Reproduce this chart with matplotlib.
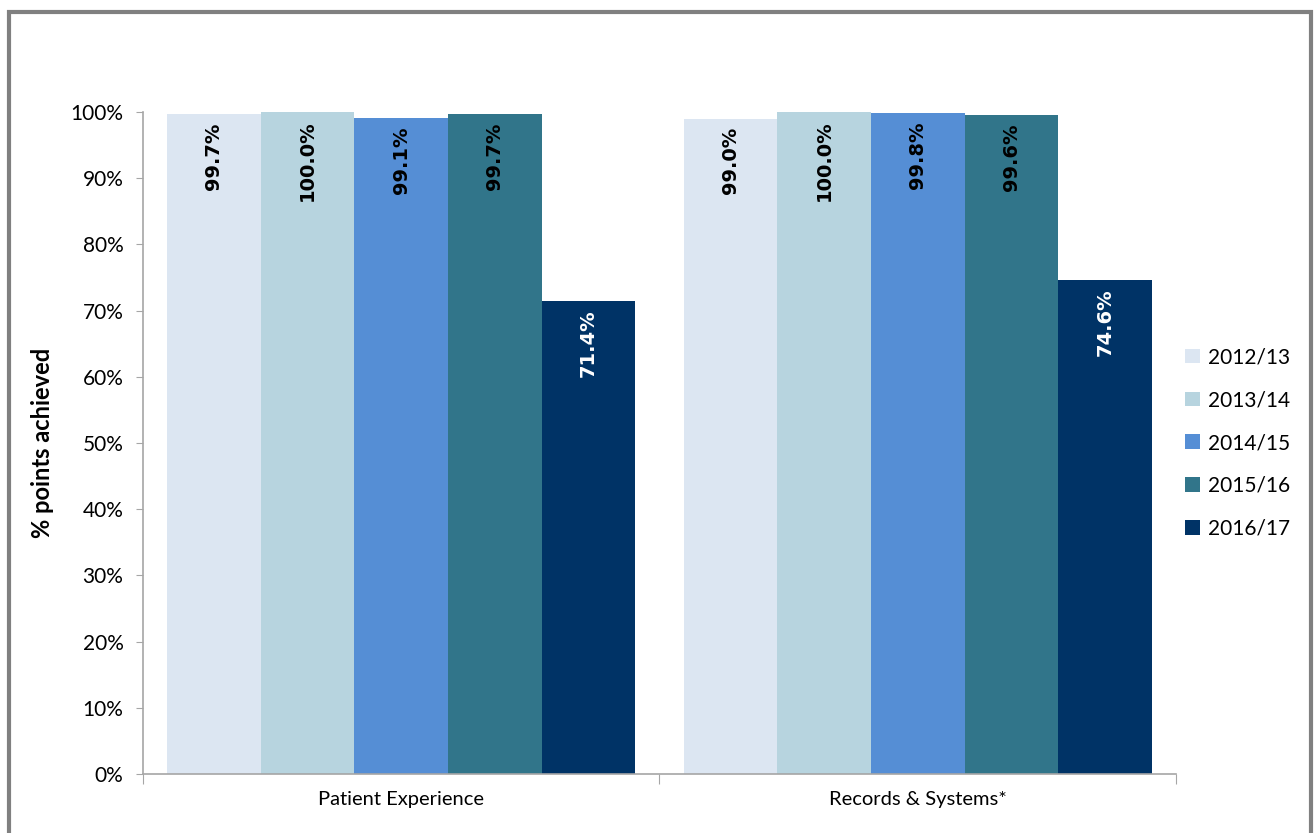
import numpy as np
import matplotlib.pyplot as plt
from matplotlib.patches import Rectangle

plt.rcParams['font.family'] = ['Lato', 'DejaVu Sans']

# ---------------------------------------------------------
# Data
# ---------------------------------------------------------
categories = ["Patient Experience", "Records & Systems*"]
years = ["2012/13", "2013/14", "2014/15", "2015/16", "2016/17"]
values = {
    "2012/13": [99.7, 99.0],
    "2013/14": [100.0, 100.0],
    "2014/15": [99.1, 99.8],
    "2015/16": [99.7, 99.6],
    "2016/17": [71.4, 74.6],
}
colors = ["#DCE6F2", "#B7D4DF", "#558ED5", "#31758A", "#003366"]
label_colors = ["black", "black", "black", "black", "white"]

# ---------------------------------------------------------
# Figure
# ---------------------------------------------------------
fig = plt.figure(figsize=(13.14, 8.33), dpi=100)
ax = fig.add_axes([0.1088, 0.0708, 0.7862, 0.7947])

n = len(years)
group_w = 0.907
bar_w = group_w / n
centers = np.arange(len(categories)) + 0.5

for i, yr in enumerate(years):
    xs = centers - group_w / 2 + bar_w * (i + 0.5)
    ax.bar(xs, values[yr], width=bar_w, color=colors[i], label=yr,
           linewidth=0, zorder=2)
    for x, v in zip(xs, values[yr]):
        ax.annotate(f"{v:.1f}%", xy=(x, v), xytext=(0, -6),
                    textcoords="offset points", rotation=90,
                    ha="center", va="top", fontsize=14, fontweight="bold",
                    color=label_colors[i], family="DejaVu Sans", zorder=3)

# ---------------------------------------------------------
# Axes formatting
# ---------------------------------------------------------
ax.set_xlim(0, len(categories))
ax.set_ylim(0, 100)
ax.set_yticks(np.arange(0, 101, 10))
ax.set_yticklabels([f"{t}%" for t in range(0, 101, 10)], fontsize=15)
ax.set_xticks(np.arange(len(categories) + 1))
ax.set_xticklabels([])
ax.set_xticks(centers, minor=True)
ax.set_xticklabels(categories, minor=True, fontsize=14.5)
ax.tick_params(axis="x", which="minor", length=0, pad=12)
ax.tick_params(axis="x", which="major", length=7, color="#A6A6A6")
ax.tick_params(axis="y", length=5, color="#A6A6A6", pad=9)

for s in ["top", "right"]:
    ax.spines[s].set_visible(False)
for s in ["left", "bottom"]:
    ax.spines[s].set_color("#A6A6A6")
    ax.spines[s].set_linewidth(1.2)

ax.set_ylabel("% points achieved", fontsize=17, fontweight="bold", labelpad=12)

leg = ax.legend(loc="center left", bbox_to_anchor=(0.995, 0.5), frameon=False,
                fontsize=15, handlelength=0.7, handleheight=0.7,
                handletextpad=0.4, labelspacing=1.1, borderaxespad=0.3)

# outer chart border
fig.patches.append(Rectangle((0.0068, -0.05), 0.9908, 1.036,
                             transform=fig.transFigure, fill=False,
                             edgecolor="#808080", linewidth=3))

plt.savefig("out.png", dpi=100)
plt.close()
